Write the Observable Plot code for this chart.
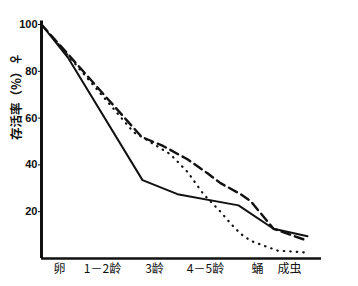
<!DOCTYPE html>
<html>
<head>
<meta charset="utf-8">
<script src="https://cdn.jsdelivr.net/npm/d3@7"></script>
<script src="https://cdn.jsdelivr.net/npm/@observablehq/plot@0.6"></script>
<style>
  html, body { margin: 0; padding: 0; background: #fff; }
  #chart svg { display: block; }
</style>
</head>
<body>
<div id="chart"></div>
<script>
// Stage axis (development progress, arbitrary units)
const stagePos = [0.36, 1.22, 2.26, 3.28, 4.32, 4.96];
const stageLabels = ["卵", "1－2龄", "3龄", "4－5龄", "蛹", "成虫"];

const yTicks = [20, 40, 60, 80, 100];
const yLabel = "存活率（%）♀";

// Series (survival %)
const solidX = [0, 0.54, 2.02, 2.72, 3.94, 4.64, 5.32];
const solidY = [100, 85.5, 33.5, 27.5, 22.7, 12.7, 9.5];

const dashedX = [0, 2.0, 2.44, 2.92, 3.32, 3.58, 3.98, 4.18, 4.64, 5.32];
const dashedY = [100, 52, 48, 42.4, 36.4, 32.2, 27.5, 24.6, 12.7, 7.6];

const dottedX = [0, 1.84, 2.08, 2.58, 2.92, 3.24, 3.58, 3.78, 3.98, 4.18, 4.44, 4.72, 5.32];
const dottedY = [100, 54, 51, 44.5, 37, 27.5, 20, 15, 10.6, 7.6, 5.5, 3.4, 2.5];

const toRows = (xs, ys) => xs.map((x, i) => ({x, y: ys[i]}));
const solid = toRows(solidX, solidY);
const dashed = toRows(dashedX, dashedY);
const dotted = toRows(dottedX, dottedY);

const ink = "#111";

const chart = Plot.plot({
  width: 358,
  height: 286,
  marginLeft: 41,
  marginRight: 37,
  marginTop: 24,
  marginBottom: 28,
  style: {background: "#fff", color: ink},
  x: {domain: [0, 5.6], axis: null},
  y: {domain: [0, 100], axis: null},
  marks: [
    Plot.axisY(yTicks, {
      tickSize: 3, tickPadding: 1, fontSize: 11,
      fontFamily: "Liberation Sans, DejaVu Sans, sans-serif",
      fontWeight: "bold", stroke: ink, label: null
    }),
    Plot.axisX(stagePos, {
      tickSize: 0, tickPadding: 6, fontSize: 12,
      fontFamily: "Noto Sans CJK SC, sans-serif",
      tickFormat: d => stageLabels[stagePos.indexOf(d)],
      label: null
    }),
    Plot.text([yLabel], {
      frameAnchor: "left", textAnchor: "middle", rotate: -90, dx: -25, dy: -45,
      fontSize: 12.5, fontWeight: "bold", letterSpacing: 1,
      fontFamily: "Noto Sans CJK SC, DejaVu Sans, sans-serif",
      fill: ink
    }),
    Plot.line(dotted, {x: "x", y: "y", stroke: ink, strokeWidth: 2.2,
      strokeDasharray: "0.5,6", strokeLinecap: "round"}),
    Plot.line(dashed, {x: "x", y: "y", stroke: ink, strokeWidth: 2.4,
      strokeDasharray: "9,5"}),
    Plot.line(solid, {x: "x", y: "y", stroke: ink, strokeWidth: 2}),
    Plot.ruleX([0], {y1: 0, y2: 101.5, stroke: ink, strokeWidth: 3}),
    Plot.ruleY([0], {x1: 0, x2: 5.6, stroke: ink, strokeWidth: 2.5})
  ]
});
document.getElementById("chart").appendChild(chart);
</script>
</body>
</html>
